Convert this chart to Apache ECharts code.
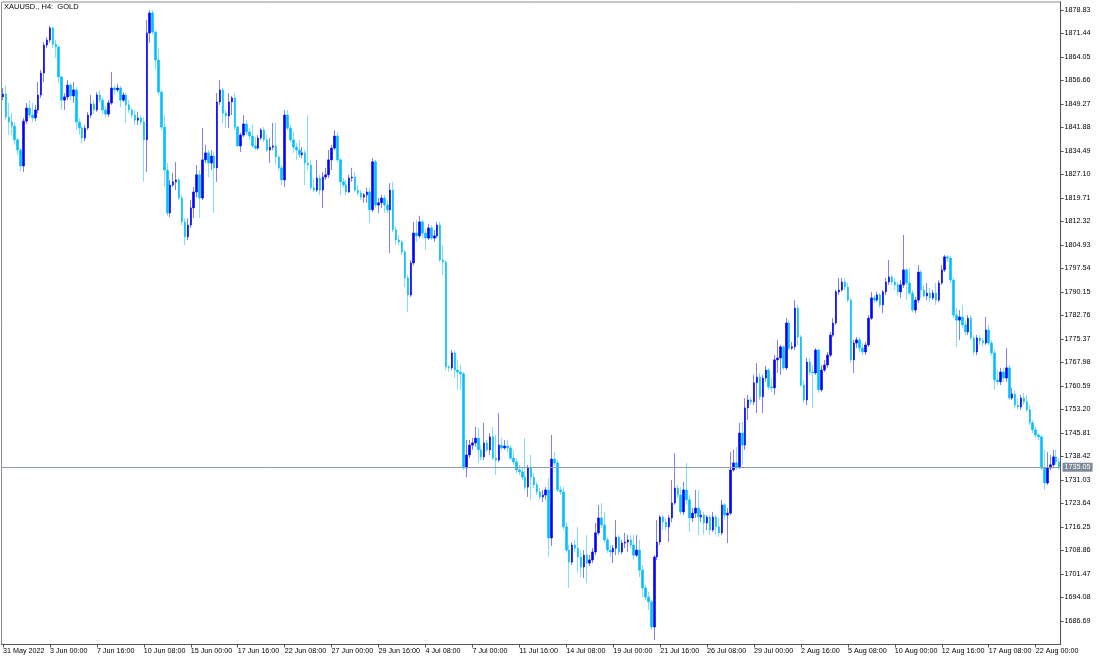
<!DOCTYPE html>
<html>
<head>
<meta charset="utf-8">
<script src="https://cdn.jsdelivr.net/npm/echarts@6.0.0/dist/echarts.min.js"></script>
<style>
html,body{margin:0;padding:0;background:#fff;}
#chart{width:1100px;height:660px;}
</style>
</head>
<body>
<div id="chart"></div>
<script>
const chartTitle = 'XAUUSD., H4:  GOLD';
const lastPrice = 1735.05;
const yTicks = [1686.69,1694.08,1701.47,1708.86,1716.25,1723.64,1731.03,1738.42,1745.81,1753.20,1760.59,1767.98,1775.37,1782.76,1790.15,1797.54,1804.93,1812.32,1819.71,1827.10,1834.49,1841.88,1849.27,1856.66,1864.05,1871.44,1878.83];
const xTickLabels = ['31 May 2022','3 Jun 00:00','7 Jun 16:00','10 Jun 08:00','15 Jun 00:00','17 Jun 16:00','22 Jun 08:00','27 Jun 00:00','29 Jun 16:00','4 Jul 08:00','7 Jul 00:00','11 Jul 16:00','14 Jul 08:00','19 Jul 00:00','21 Jul 16:00','26 Jul 08:00','29 Jul 00:00','2 Aug 16:00','5 Aug 08:00','10 Aug 00:00','12 Aug 16:00','17 Aug 08:00','22 Aug 00:00'];
const barsPerTick = 16;

const opens = [
1851.5,1852.4,1845.2,1843.6,1842.3,1838.0,1834.8,1829.8,1843.9,1848.0,
1845.8,1844.9,1847.4,1852.1,1859.0,1867.8,1869.4,1873.2,1868.1,1867.2,
1857.8,1850.5,1851.5,1855.2,1851.8,1853.7,1843.6,1841.7,1838.6,1841.7,
1845.8,1849.3,1847.4,1852.1,1850.5,1847.4,1846.1,1849.6,1854.3,1853.7,
1854.3,1850.5,1852.1,1849.0,1847.4,1845.8,1844.2,1844.9,1843.6,1838.0,
1871.6,1877.9,1871.9,1863.1,1853.0,1842.0,1828.5,1815.0,1823.8,1824.8,
1825.4,1819.7,1812.2,1807.5,1811.2,1816.6,1821.6,1827.0,1819.7,1831.7,
1833.9,1830.7,1832.9,1829.2,1849.9,1853.7,1846.4,1845.5,1849.9,1851.2,
1842.0,1836.1,1839.5,1843.0,1840.5,1839.2,1836.1,1835.4,1838.6,1841.1,
1838.0,1834.8,1835.7,1836.1,1832.6,1829.2,1825.4,1845.8,1841.7,1838.0,
1835.7,1834.8,1833.3,1833.9,1830.7,1830.1,1822.9,1822.2,1826.0,1822.2,
1826.3,1827.0,1831.7,1835.4,1839.2,1831.7,1824.8,1823.8,1821.6,1826.0,
1826.3,1822.2,1821.3,1820.0,1820.7,1821.6,1816.0,1831.1,1817.5,1818.2,
1819.7,1817.5,1816.0,1822.2,1809.7,1806.5,1805.9,1802.7,1794.6,1789.2,
1799.3,1808.7,1807.8,1812.2,1808.7,1807.1,1810.3,1807.1,1807.8,1811.2,
1800.2,1799.6,1766.6,1766.3,1771.0,1765.6,1765.0,1764.4,1734.8,1738.9,
1742.0,1742.7,1744.2,1740.5,1738.3,1742.7,1740.5,1744.6,1737.9,1737.3,
1742.0,1741.1,1741.7,1741.1,1737.9,1736.7,1734.2,1733.6,1731.9,1728.8,
1734.8,1731.9,1729.5,1727.3,1725.7,1726.3,1727.9,1712.8,1737.6,1736.4,
1727.9,1727.3,1716.3,1709.0,1705.2,1710.6,1709.6,1706.8,1703.7,1707.4,
1704.9,1705.9,1708.4,1714.4,1719.1,1716.9,1712.2,1709.0,1708.4,1709.6,
1713.1,1708.4,1711.2,1711.5,1712.2,1710.6,1707.4,1709.0,1702.7,1697.1,
1694.2,1692.7,1684.8,1706.8,1711.5,1719.4,1717.8,1716.3,1719.1,1723.8,
1728.5,1726.3,1721.0,1727.9,1724.8,1719.1,1720.6,1722.2,1719.4,1720.0,
1717.5,1719.4,1715.3,1719.4,1716.3,1714.4,1723.2,1720.0,1720.6,1734.2,
1736.4,1735.1,1745.8,1742.0,1753.7,1756.2,1755.6,1761.6,1763.4,1757.2,
1763.1,1765.6,1760.3,1760.0,1768.8,1769.4,1772.9,1766.3,1780.4,1772.5,
1772.9,1785.1,1776.0,1760.9,1756.2,1768.1,1765.0,1764.7,1771.9,1759.4,
1765.6,1767.2,1770.3,1776.6,1780.4,1790.2,1790.8,1793.3,1791.7,1787.6,
1768.8,1774.1,1775.1,1772.5,1771.3,1773.5,1781.9,1788.3,1787.6,1789.2,
1786.1,1790.2,1793.3,1794.9,1793.3,1792.4,1790.2,1792.4,1797.1,1793.0,
1789.8,1784.5,1787.6,1796.4,1790.8,1788.9,1789.8,1788.3,1789.8,1787.6,
1793.0,1797.1,1801.2,1800.8,1793.9,1782.9,1781.3,1782.3,1779.8,1777.6,
1781.9,1775.7,1771.3,1775.7,1774.8,1774.1,1778.2,1774.1,1771.0,1762.5,
1761.9,1765.0,1763.1,1766.3,1756.8,1758.1,1754.6,1754.0,1756.8,1755.6,
1753.1,1749.0,1746.8,1745.2,1744.6,1734.8,1730.1,1734.8,1735.8,1738.3,
1736.7];

const highs = [
1854.3,1855.2,1849.6,1846.4,1843.6,1838.6,1835.4,1844.9,1849.6,1850.5,
1849.6,1849.0,1856.2,1860.0,1868.8,1870.3,1873.8,1873.5,1869.4,1867.8,
1858.1,1852.7,1856.8,1855.9,1856.2,1854.6,1844.9,1842.3,1842.7,1846.8,
1852.1,1850.5,1853.0,1853.7,1851.5,1848.6,1850.5,1859.3,1855.2,1855.6,
1854.9,1853.0,1852.7,1850.5,1848.0,1847.4,1846.8,1845.8,1845.2,1875.7,
1878.8,1878.8,1872.5,1866.9,1853.7,1845.8,1830.7,1825.4,1827.6,1831.0,
1826.0,1820.6,1813.4,1813.4,1819.1,1823.2,1830.1,1828.5,1841.7,1836.4,
1834.8,1834.8,1834.2,1852.7,1856.8,1854.3,1847.4,1852.7,1851.8,1852.7,
1842.3,1840.2,1845.8,1844.2,1841.7,1842.7,1838.9,1839.5,1841.7,1842.0,
1839.5,1838.6,1843.3,1843.3,1833.3,1830.1,1847.4,1847.4,1842.7,1840.5,
1837.0,1838.0,1835.7,1834.8,1845.8,1831.7,1826.0,1831.7,1827.0,1827.9,
1829.2,1834.8,1836.4,1841.1,1840.5,1832.3,1826.0,1825.4,1827.0,1829.2,
1827.9,1823.8,1822.2,1821.3,1822.9,1822.9,1832.3,1831.7,1819.7,1820.7,
1820.7,1819.1,1824.4,1824.8,1810.9,1808.1,1806.5,1803.4,1795.5,1800.2,
1812.2,1812.8,1814.1,1812.8,1809.7,1811.6,1811.2,1809.7,1812.2,1812.2,
1804.9,1800.2,1767.2,1771.9,1771.9,1768.8,1767.2,1765.0,1743.6,1743.6,
1744.2,1747.7,1747.4,1742.0,1749.0,1743.6,1745.8,1747.7,1745.2,1752.1,
1744.2,1743.6,1743.6,1742.0,1740.5,1737.9,1735.8,1734.8,1744.2,1735.8,
1738.9,1733.2,1730.4,1728.5,1727.9,1728.8,1731.6,1745.2,1739.8,1737.3,
1729.2,1728.8,1717.8,1710.6,1711.5,1712.2,1716.3,1709.0,1709.0,1713.7,
1707.4,1709.6,1717.5,1723.2,1723.8,1721.0,1713.1,1710.6,1710.6,1718.4,
1713.7,1712.2,1714.4,1713.7,1713.7,1713.7,1713.7,1712.2,1704.3,1698.0,
1695.9,1693.3,1707.4,1718.4,1720.0,1720.0,1719.1,1720.0,1731.0,1739.5,
1729.5,1728.8,1730.4,1736.4,1726.3,1722.2,1727.9,1727.9,1721.6,1721.0,
1720.0,1720.0,1721.0,1720.0,1719.1,1724.8,1723.8,1722.2,1739.8,1740.5,
1741.4,1749.0,1749.3,1756.8,1757.8,1757.2,1764.1,1767.8,1764.7,1764.1,
1766.9,1766.2,1763.1,1770.3,1775.1,1773.5,1773.5,1781.9,1781.3,1774.4,
1787.6,1786.1,1776.6,1762.5,1769.4,1769.4,1767.2,1772.5,1772.5,1767.2,
1768.8,1771.3,1777.6,1781.9,1790.8,1794.6,1794.6,1794.6,1793.0,1788.3,
1775.1,1776.0,1776.0,1774.1,1774.4,1782.9,1790.2,1789.2,1790.2,1789.8,
1790.8,1794.6,1800.2,1795.5,1794.6,1793.3,1793.9,1808.1,1797.7,1797.7,
1790.8,1788.6,1798.6,1797.1,1792.4,1793.0,1791.4,1790.8,1793.0,1793.9,
1798.6,1801.8,1801.8,1801.5,1794.6,1785.1,1784.5,1786.1,1781.3,1782.9,
1782.9,1776.6,1776.6,1776.6,1775.7,1782.3,1779.8,1775.1,1771.9,1765.6,
1766.3,1766.3,1772.5,1767.2,1760.0,1759.4,1756.8,1757.8,1758.4,1757.8,
1754.6,1749.9,1747.7,1745.8,1745.2,1740.5,1739.8,1738.9,1740.5,1740.5,
1737.9];

const lows = [
1850.5,1844.2,1839.5,1839.5,1836.4,1833.2,1828.2,1827.9,1843.0,1844.9,
1843.6,1843.9,1846.4,1851.2,1856.2,1866.9,1868.5,1866.9,1863.7,1855.9,
1847.4,1847.4,1850.5,1850.5,1849.6,1841.1,1839.5,1837.0,1837.6,1841.1,
1844.9,1846.1,1846.8,1849.6,1846.1,1844.9,1845.2,1849.0,1852.1,1853.0,
1848.3,1849.9,1843.3,1846.4,1844.9,1842.7,1842.7,1842.7,1824.8,1827.9,
1868.5,1871.0,1860.0,1852.1,1841.1,1823.2,1814.1,1813.7,1823.2,1822.2,
1819.1,1811.2,1804.9,1806.5,1810.3,1813.4,1820.0,1813.4,1819.1,1830.7,
1826.3,1828.5,1815.0,1824.8,1849.0,1843.3,1841.7,1841.7,1845.8,1841.1,
1835.7,1834.2,1838.9,1839.5,1838.0,1835.4,1834.8,1834.8,1838.0,1837.3,
1834.2,1830.7,1834.8,1830.1,1828.5,1823.8,1823.2,1841.1,1837.3,1833.9,
1831.7,1832.3,1832.3,1823.8,1828.5,1822.2,1821.6,1821.6,1820.6,1816.6,
1825.4,1826.0,1828.5,1834.8,1831.0,1820.6,1822.9,1820.6,1821.3,1824.8,
1821.6,1820.4,1819.1,1818.2,1818.2,1811.9,1815.3,1816.6,1815.0,1816.6,
1815.0,1815.0,1802.4,1809.0,1804.9,1804.9,1801.8,1791.7,1783.8,1788.6,
1798.6,1805.9,1807.1,1807.1,1803.4,1806.5,1806.5,1805.9,1807.1,1799.6,
1795.5,1765.6,1765.0,1765.6,1763.1,1759.4,1759.4,1734.2,1731.9,1737.9,
1740.5,1741.4,1736.4,1737.3,1737.3,1739.8,1738.9,1737.3,1732.6,1736.7,
1740.5,1740.5,1739.8,1737.3,1735.8,1733.2,1732.6,1731.0,1727.9,1725.7,
1724.8,1728.5,1726.3,1724.8,1724.1,1724.8,1706.8,1710.3,1735.4,1727.3,
1726.3,1715.3,1708.1,1697.1,1704.3,1708.4,1701.8,1700.5,1700.2,1698.6,
1704.0,1704.9,1707.4,1713.7,1715.9,1711.2,1708.1,1706.8,1704.9,1707.4,
1707.4,1707.8,1709.6,1708.4,1709.6,1705.9,1706.8,1700.5,1694.2,1693.3,
1690.2,1683.9,1680.7,1705.9,1710.6,1715.3,1715.3,1711.5,1717.8,1723.2,
1725.4,1720.0,1720.0,1723.2,1714.7,1717.8,1719.1,1713.7,1717.8,1713.7,
1715.3,1713.7,1714.7,1713.7,1713.1,1713.7,1718.5,1711.2,1720.0,1733.6,
1734.2,1734.5,1735.8,1740.5,1749.9,1754.6,1754.6,1752.1,1756.2,1752.1,
1761.9,1759.4,1758.7,1757.8,1764.7,1764.1,1765.6,1765.6,1771.9,1771.9,
1771.9,1773.5,1760.3,1755.3,1754.6,1764.1,1753.7,1764.1,1758.4,1758.7,
1765.0,1766.3,1769.7,1776.0,1779.8,1789.2,1790.2,1790.8,1787.0,1767.8,
1764.7,1772.5,1771.3,1770.3,1770.3,1772.9,1781.3,1786.7,1787.0,1785.1,
1783.5,1789.2,1792.4,1792.4,1790.8,1789.2,1788.3,1791.4,1787.6,1789.2,
1783.8,1783.5,1786.7,1788.3,1788.3,1787.6,1787.0,1787.6,1786.1,1787.0,
1792.4,1796.4,1799.6,1793.0,1781.9,1772.9,1775.1,1778.8,1776.6,1776.6,
1775.1,1770.3,1770.3,1773.5,1772.9,1773.5,1773.5,1770.0,1759.4,1760.9,
1760.9,1761.9,1761.9,1756.2,1756.2,1753.7,1753.1,1753.1,1754.6,1752.4,
1748.3,1745.8,1744.2,1743.6,1734.2,1727.9,1729.5,1734.2,1735.1,1735.8,
1734.2];

const closes = [
1852.4,1845.2,1843.6,1842.3,1838.0,1834.8,1829.8,1843.9,1848.0,1845.8,
1844.9,1847.4,1852.1,1859.0,1867.8,1869.4,1873.2,1868.1,1867.2,1857.8,
1850.5,1851.5,1855.2,1851.8,1853.7,1843.6,1841.7,1838.6,1841.7,1845.8,
1849.3,1847.4,1852.1,1850.5,1847.4,1846.1,1849.6,1854.3,1853.7,1854.3,
1850.5,1852.1,1849.0,1847.4,1845.8,1844.2,1844.9,1843.6,1838.0,1871.6,
1877.9,1871.9,1863.1,1853.0,1842.0,1828.5,1815.0,1823.8,1824.8,1825.4,
1819.7,1812.2,1807.5,1811.2,1816.6,1821.6,1827.0,1819.7,1831.7,1833.9,
1830.7,1832.9,1829.2,1849.9,1853.7,1846.4,1845.5,1849.9,1851.2,1842.0,
1836.1,1839.5,1843.0,1840.5,1839.2,1836.1,1835.4,1838.6,1841.1,1838.0,
1834.8,1835.7,1836.1,1832.6,1829.2,1825.4,1845.8,1841.7,1838.0,1835.7,
1834.8,1833.3,1833.9,1830.7,1830.1,1822.9,1822.2,1826.0,1822.2,1826.3,
1827.0,1831.7,1835.4,1839.2,1831.7,1824.8,1823.8,1821.6,1826.0,1826.3,
1822.2,1821.3,1820.0,1820.7,1821.6,1816.0,1831.1,1817.5,1818.2,1819.7,
1817.5,1816.0,1822.2,1809.7,1806.5,1805.9,1802.7,1794.6,1789.2,1799.3,
1808.7,1807.8,1812.2,1808.7,1807.1,1810.3,1807.1,1807.8,1811.2,1800.2,
1799.6,1766.6,1766.3,1771.0,1765.6,1765.0,1764.4,1734.8,1738.9,1742.0,
1742.7,1744.2,1740.5,1738.3,1742.7,1740.5,1744.6,1737.9,1737.3,1742.0,
1741.1,1741.7,1741.1,1737.9,1736.7,1734.2,1733.6,1731.9,1728.8,1734.8,
1731.9,1729.5,1727.3,1725.7,1726.3,1727.9,1712.8,1737.6,1736.4,1727.9,
1727.3,1716.3,1709.0,1705.2,1710.6,1709.6,1706.8,1703.7,1707.4,1704.9,
1705.9,1708.4,1714.4,1719.1,1716.9,1712.2,1709.0,1708.4,1709.6,1713.1,
1708.4,1711.2,1711.5,1712.2,1710.6,1707.4,1709.0,1702.7,1697.1,1694.2,
1692.7,1684.8,1706.8,1711.5,1719.4,1717.8,1716.3,1719.1,1723.8,1728.5,
1726.3,1721.0,1727.9,1724.8,1719.1,1720.6,1722.2,1719.4,1720.0,1717.5,
1719.4,1715.3,1719.4,1716.3,1714.4,1723.2,1720.0,1720.6,1734.2,1736.4,
1735.1,1745.8,1742.0,1753.7,1756.2,1755.6,1761.6,1763.4,1757.2,1763.1,
1765.6,1760.3,1760.0,1768.8,1769.4,1772.9,1766.3,1780.4,1772.5,1772.9,
1785.1,1776.0,1760.9,1756.2,1768.1,1765.0,1764.7,1771.9,1759.4,1765.6,
1767.2,1770.3,1776.6,1780.4,1790.2,1790.8,1793.3,1791.7,1787.6,1768.8,
1774.1,1775.1,1772.5,1771.3,1773.5,1781.9,1788.3,1787.6,1789.2,1786.1,
1790.2,1793.3,1794.9,1793.3,1792.4,1790.2,1792.4,1797.1,1793.0,1789.8,
1784.5,1787.6,1796.4,1790.8,1788.9,1789.8,1788.3,1789.8,1787.6,1793.0,
1797.1,1801.2,1800.8,1793.9,1782.9,1781.3,1782.3,1779.8,1777.6,1781.9,
1775.7,1771.3,1775.7,1774.8,1774.1,1778.2,1774.1,1771.0,1762.5,1761.9,
1765.0,1763.1,1766.3,1756.8,1758.1,1754.6,1754.0,1756.8,1755.6,1753.1,
1749.0,1746.8,1745.2,1744.6,1734.8,1730.1,1734.8,1735.8,1738.3,1736.7,
1735.05];

const categories = opens.map((_, i) => String(i));
const wickData = opens.map((o, i) => [o, closes[i], lows[i], highs[i]]);
const bodyData = opens.map((o, i) => [o, closes[i], Math.min(o, closes[i]), Math.max(o, closes[i])]);

const FONT = 'Liberation Sans';
const chart = echarts.init(document.getElementById('chart'), null, {renderer: 'canvas'});
chart.setOption({
  animation: false,
  backgroundColor: '#ffffff',
  textStyle: {fontFamily: FONT},
  title: {
    text: chartTitle, left: 4, top: 3, padding: 0,
    textStyle: {fontSize: 7.5, fontWeight: 'normal', color: '#000', fontFamily: FONT}
  },
  grid: {left: 1, right: 39.4, top: 2, bottom: 15.5, show: true, borderColor: '#8c8c8c', borderWidth: 1, backgroundColor: 'transparent'},
  xAxis: {
    type: 'category', data: categories, boundaryGap: true,
    axisLine: {show: true, lineStyle: {color: '#555', width: 1}},
    axisTick: {show: true, interval: barsPerTick - 1, alignWithLabel: true, length: 3, lineStyle: {color: '#555'}},
    axisLabel: {
      show: true, interval: barsPerTick - 1, align: 'left', margin: 3,
      fontSize: 7.2, color: '#000', fontFamily: FONT,
      formatter: (v, idx) => xTickLabels[Math.round(idx / barsPerTick)] || ''
    },
    splitLine: {show: false}
  },
  yAxis: {
    type: 'value', position: 'right', min: 1679.30, max: 1881.35, scale: true,
    axisLine: {show: true, lineStyle: {color: '#555', width: 1}},
    axisTick: {show: true, length: 3, customValues: yTicks, lineStyle: {color: '#555'}},
    axisLabel: {
      show: true, customValues: yTicks, margin: 4, fontSize: 7.2, color: '#000', fontFamily: FONT,
      formatter: v => Number(v).toFixed(2)
    },
    splitLine: {show: false}
  },
  series: [
    {
      name: 'wick', type: 'candlestick', data: wickData, barWidth: 1, silent: true,
      itemStyle: {color: '#8080ff', color0: '#80dfff', borderColor: '#8080ff', borderColor0: '#80dfff', borderWidth: 1},
      z: 2
    },
    {
      name: 'body', type: 'candlestick', data: bodyData, barWidth: 2, silent: true,
      itemStyle: {color: '#0000ff', color0: '#00bfff', borderColor: '#0000ff', borderColor0: '#00bfff', borderWidth: 0.6},
      z: 3,
      markLine: {
        silent: true, symbol: 'none', animation: false,
        lineStyle: {color: '#8e9aa6', width: 1, type: 'solid'},
        label: {
          show: true, position: 'end', distance: 2,
          formatter: () => lastPrice.toFixed(2),
          backgroundColor: '#7d8a97', color: '#ffffff', fontSize: 7.2, fontFamily: FONT,
          padding: [1, 2, 1, 2]
        },
        data: [{yAxis: lastPrice}]
      }
    }
  ]
});
</script>
</body>
</html>
